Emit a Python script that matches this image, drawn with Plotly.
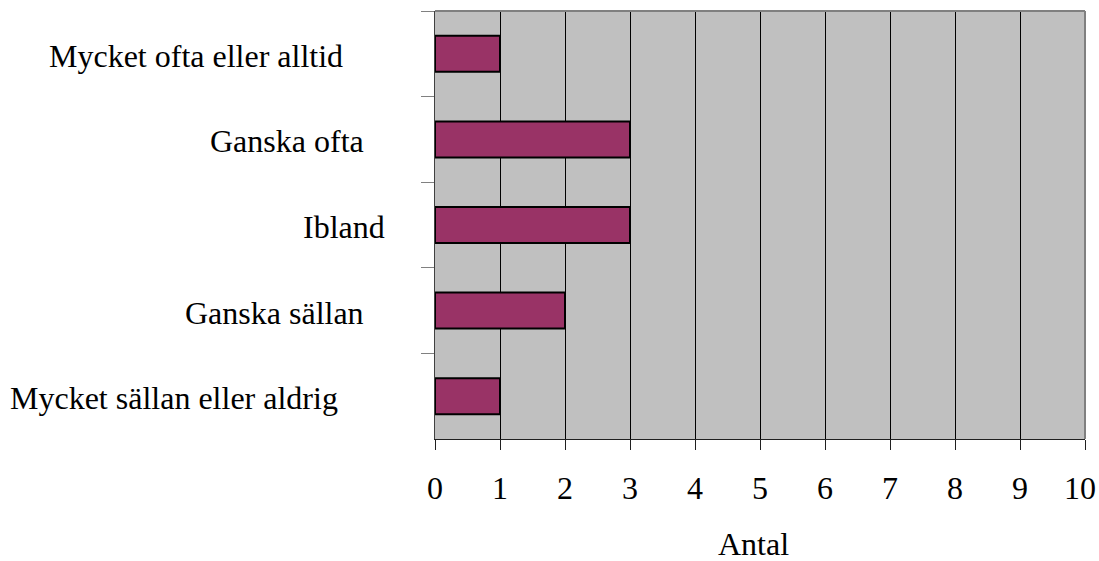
import plotly.graph_objects as go

# Response categories (top to bottom) and their counts
categories = [
    "Mycket ofta eller alltid",
    "Ganska ofta",
    "Ibland",
    "Ganska sällan",
    "Mycket sällan eller aldrig",
]
counts = [1, 3, 3, 2, 1]
x_ticks = list(range(0, 11))
x_title = "Antal"

FONT = "Liberation Serif, Times New Roman, serif"
FS = 32

# plot-area geometry in pixels
W, H = 1099, 561
L, R, T, B = 435, 14, 11, 122
PW, PH = W - L - R, H - T - B


def paper_y(px):
    """Convert a pixel row of the page into a paper y coordinate."""
    return (PH + T - px) / PH


fig = go.Figure(
    go.Bar(
        x=counts,
        y=categories,
        orientation="h",
        width=0.42,
        marker=dict(color="#993366", line=dict(color="black", width=2)),
        hoverinfo="x+y",
    )
)

fig.update_layout(
    width=W,
    height=H,
    margin=dict(l=L, r=R, t=T, b=B, pad=0, autoexpand=False),
    paper_bgcolor="white",
    plot_bgcolor="#C0C0C0",
    showlegend=False,
    font=dict(family=FONT, size=FS, color="black"),
    xaxis=dict(
        range=[0, 10],
        tickvals=x_ticks,
        showticklabels=False,
        showgrid=True,
        gridcolor="black",
        gridwidth=1,
        zeroline=False,
        showline=True,
        linecolor="#202020",
        linewidth=1,
        ticks="outside",
        ticklen=10,
        tickcolor="#202020",
        tickwidth=1,
        automargin=False,
        fixedrange=True,
    ),
    yaxis=dict(
        type="category",
        categoryorder="array",
        categoryarray=categories,
        range=[4.5, -0.5],
        tickson="boundaries",
        ticks="outside",
        ticklen=13,
        tickcolor="#808080",
        tickwidth=1,
        showticklabels=False,
        showgrid=False,
        zeroline=False,
        showline=True,
        linecolor="#404040",
        linewidth=1,
        automargin=False,
        fixedrange=True,
    ),
)

# gray frame on the top and right edges of the plot area
fig.add_shape(type="line", xref="paper", yref="paper", x0=0, x1=1, y0=1, y1=1,
              line=dict(color="#808080", width=2))
fig.add_shape(type="line", xref="paper", yref="paper", x0=1, x1=1, y0=0, y1=1,
              line=dict(color="#808080", width=2))

# x tick labels; the last one is nudged left so it stays on the page
for v in x_ticks:
    fig.add_annotation(
        x=v, xref="x",
        y=paper_y(488), yref="paper",
        text=str(v), showarrow=False,
        xanchor="center", yanchor="middle",
        xshift=-5 if v == x_ticks[-1] else 0,
        font=dict(family=FONT, size=FS, color="black"),
    )

# category labels, each centred at its own horizontal position
label_centers_px = [196, 287, 344, 274, 174]
for cat, cx in zip(categories, label_centers_px):
    fig.add_annotation(
        x=(cx - L) / PW, xref="paper",
        y=cat, yref="y",
        text=cat, showarrow=False,
        xanchor="center", yanchor="middle",
        yshift=-2,
        font=dict(family=FONT, size=FS, color="black"),
    )

# axis title
fig.add_annotation(
    x=(753 - L) / PW, xref="paper",
    y=paper_y(544), yref="paper",
    text=x_title, showarrow=False,
    xanchor="center", yanchor="middle",
    font=dict(family=FONT, size=FS, color="black"),
)

fig.write_html("out.html")
